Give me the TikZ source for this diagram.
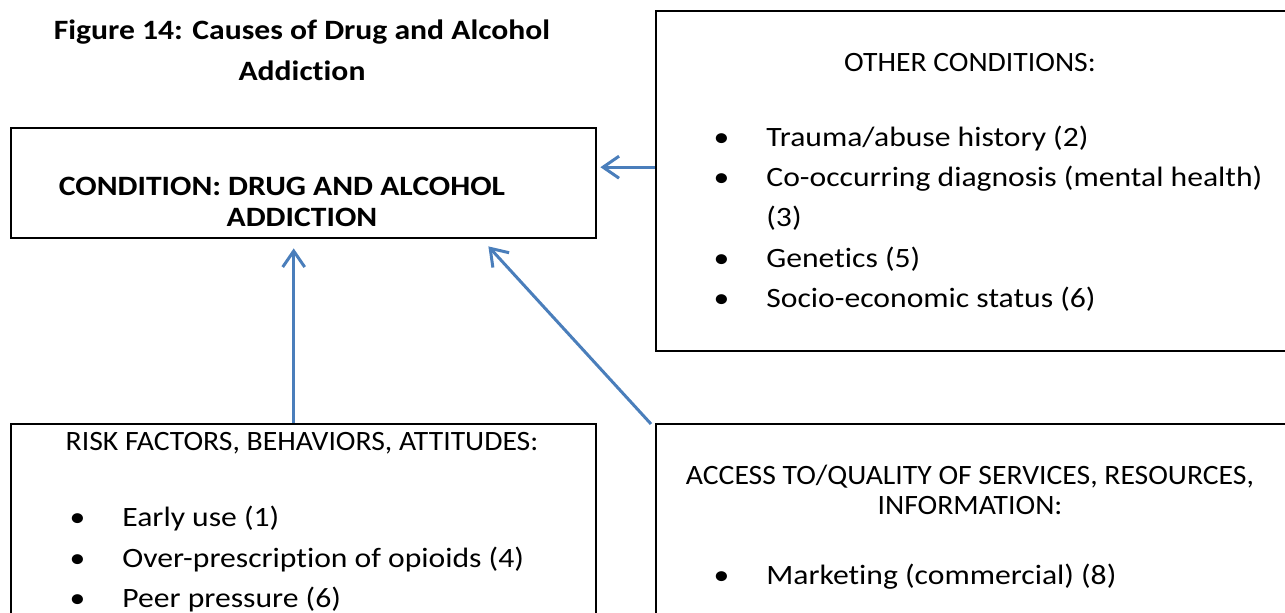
\documentclass[tikz,border=0pt]{standalone}
\usepackage{fontspec}
\setmainfont{Carlito}[FakeStretch=1.13, Ligatures=NoCommon]
\newfontfamily\capsfont{Carlito}[FakeStretch=1.06, Ligatures=NoCommon]
\usetikzlibrary{arrows.meta}
\definecolor{linkblue}{HTML}{4A7EBB}
\tikzset{
  box/.style={draw, line width=1.2pt, anchor=north west, inner sep=0pt},
  txt/.style={font=\fontsize{14pt}{20pt}\selectfont, inner sep=0pt, anchor=base},
  capstxt/.style={txt, font=\fontsize{14pt}{20pt}\capsfont},
  boldtxt/.style={txt, font=\fontsize{14pt}{20pt}\selectfont\bfseries},
  item/.style={txt, anchor=base west},
  link/.style={draw=linkblue, line width=1.5pt, -{Straight Barb[length=8pt,width=11pt]}}
}
\newcommand{\bul}{\llap{•\hspace{18.5pt}}}
\begin{document}
\begin{tikzpicture}[x=0.5pt,y=-0.5pt]
  \useasboundingbox (0,0) rectangle (1285,613);
  \clip (0,0) rectangle (1285,613);
  % boxes
  \node[box, minimum width=292.5pt, minimum height=55pt] (cond) at (10,127) {};
  \node[box, minimum width=320pt, minimum height=170pt] (other) at (655,10) {};
  \node[box, minimum width=292.5pt, minimum height=120pt] (risk) at (10,423) {};
  \node[box, minimum width=320pt, minimum height=120pt] (access) at (655,423) {};
  % title
  \node[boldtxt] (fig1) at (302,40) {Figure 14: Causes of Drug and Alcohol};
  \node[boldtxt] (fig2) at (302,81) {Addiction};
  % condition
  \node[boldtxt] (c1) at (282,196) {CONDITION: DRUG AND ALCOHOL};
  \node[boldtxt] (c2) at (302,227) {ADDICTION};
  % other conditions
  \node[capstxt] (oh) at (970,72) {OTHER CONDITIONS:};
  \node[item] (o1) at (766,147) {\bul Trauma/abuse history (2)};
  \node[item] (o2) at (766,187) {\bul Co-occurring diagnosis (mental health)};
  \node[item] (o3) at (766,227) {(3)};
  \node[item] (o4) at (766,268) {\bul Genetics (5)};
  \node[item] (o5) at (766,308) {\bul Socio-economic status (6)};
  % risk factors
  \node[capstxt] (rh) at (302,451) {RISK FACTORS, BEHAVIORS, ATTITUDES:};
  \node[item] (r1) at (122,527) {\bul Early use (1)};
  \node[item] (r2) at (122,568) {\bul Over-prescription of opioids (4)};
  \node[item] (r3) at (122,608) {\bul Peer pressure (6)};
  % access
  \node[capstxt] (ah1) at (970,485) {ACCESS TO/QUALITY OF SERVICES, RESOURCES,};
  \node[capstxt] (ah2) at (970,515) {INFORMATION:};
  \node[item] (a1) at (766,585) {\bul Marketing (commercial) (8)};
  % arrows
  \draw[link] ([yshift=7pt]other.west) -- ([xshift=1.5pt,yshift=8pt]cond.east);
  \draw[link] ([xshift=-5pt]risk.north) -- ([xshift=-5pt,yshift=-4.5pt]cond.south);
  \draw[link] ([xshift=-2pt,yshift=-0.5pt]access.north west) -- ([xshift=-54.5pt,yshift=-3.5pt]cond.south east);
\end{tikzpicture}
\end{document}
